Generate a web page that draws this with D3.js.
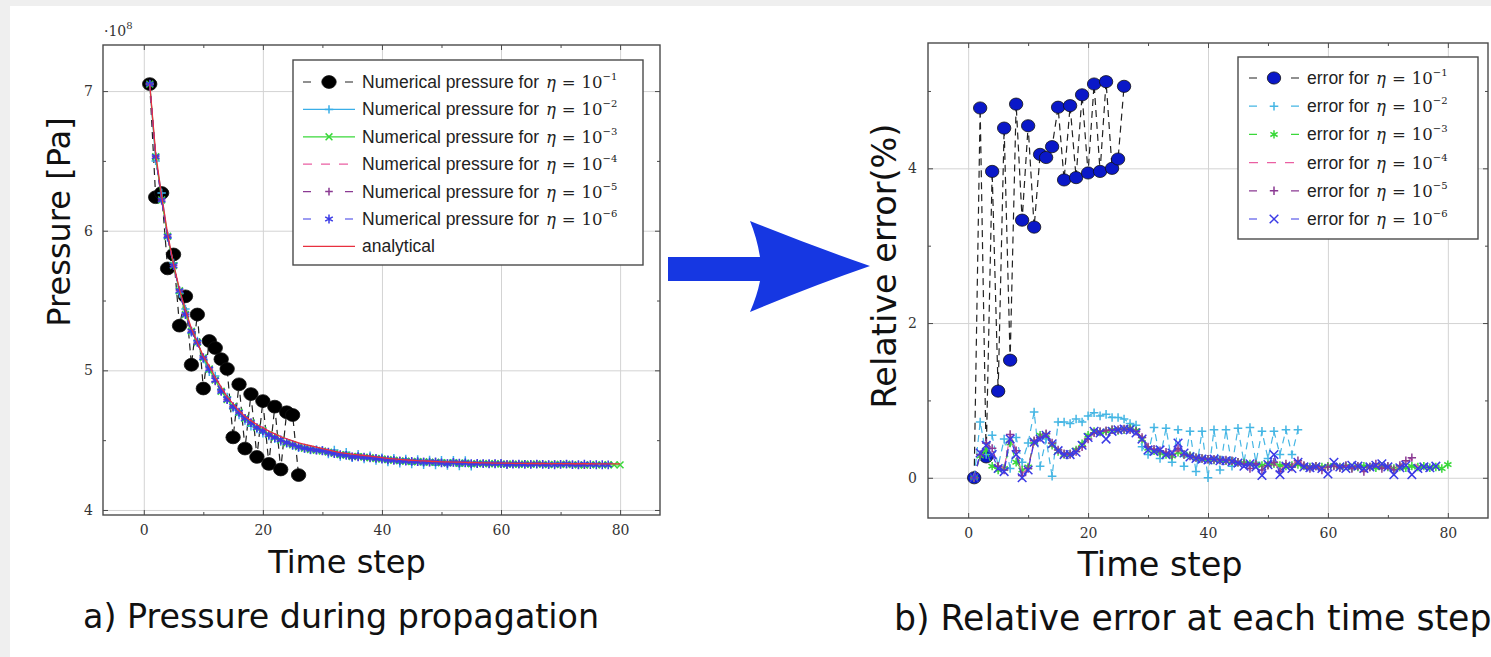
<!DOCTYPE html>
<html><head><meta charset="utf-8">
<script src="https://cdn.jsdelivr.net/npm/d3@7"></script>
<style>body{margin:0;background:#fff}svg{display:block}</style>
</head><body>
<svg id="c" width="1491" height="657"></svg>
<script>
// ---------------- DATA ----------------
const xTickLabels = [0, 20, 40, 60, 80];
const xMinorTicks = [10, 30, 50, 70];
const pressureTickLabels = [4, 5, 6, 7];
const pressureMinorTicks = [4.5, 5.5, 6.5];
const errorTickLabels = [0, 2, 4];
const errorMinorTicks = [1, 3, 5];
const etaExponents = ["−1", "−2", "−3", "−4", "−5", "−6"];

// Pressure (x10^8 Pa), time steps start at 1
const pressureEta1 = [7.05,6.24,6.27,5.73,5.83,5.32,5.53,5.04,5.40,4.87,5.21,5.16,5.08,5.01,4.52,4.90,4.44,4.83,4.38,4.78,4.33,4.74,4.29,4.70,4.68,4.25];
const pressureEta2 = [7.05,6.50,6.27,5.95,5.77,5.55,5.44,5.27,5.21,5.08,4.99,4.96,4.86,4.81,4.73,4.68,4.64,4.60,4.58,4.55,
 4.53,4.51,4.49,4.475,4.46,4.446,4.44,4.43,4.432,4.427,4.40,4.43,4.382,4.414,4.373,4.40,4.364,4.388,4.354,4.375,
 4.343,4.370,4.335,4.366,4.328,4.362,4.323,4.358,4.321,4.356,4.318,4.356,4.315,4.354,4.313];
const pressureEta3 = [7.05,6.53,6.22,5.96,5.75,5.57,5.40,5.28,5.20,5.09,5.01,4.93,4.85,4.79,4.74,4.70,4.655,4.625,4.59,4.57,
 4.54,4.52,4.50,4.48,4.467,4.452,4.442,4.433,4.427,4.422,4.414,4.405,4.396,4.392,4.383,4.382,4.378,4.374,4.369,4.365,
 4.360,4.356,4.352,4.349,4.347,4.345,4.346,4.341,4.343,4.338,4.337,4.339,4.335,4.336,4.331,4.332,4.333,4.331,4.332,4.329,
 4.328,4.329,4.327,4.329,4.327,4.330,4.327,4.325,4.327,4.326,4.328,4.325,4.323,4.322,4.325,4.324,4.323,4.324,4.323,4.323];
const pressureEta4 = [7.05,6.53,6.22,5.96,5.75,5.57,5.40,5.28,5.20,5.09,5.01,4.92,4.85,4.79,4.74,4.70,4.656,4.624,4.59,4.567,
 4.539,4.518,4.497,4.482,4.467,4.452,4.443,4.433,4.427,4.422,4.414,4.405,4.396,4.391,4.384,4.382,4.378,4.374,4.369,4.365,
 4.360,4.356,4.352,4.350,4.347,4.345,4.344,4.340,4.342,4.338,4.336,4.339,4.334,4.335,4.329,4.332,4.333,4.330,4.331,4.329,
 4.328,4.328,4.327,4.328,4.326,4.329,4.327,4.325,4.327,4.326,4.327,4.324,4.322,4.320,4.324,4.323];
const pressureEta5 = [7.05,6.53,6.22,5.96,5.75,5.57,5.40,5.28,5.20,5.09,5.01,4.92,4.85,4.79,4.74,4.70,4.656,4.624,4.59,4.567,
 4.539,4.518,4.497,4.482,4.467,4.452,4.442,4.433,4.427,4.422,4.414,4.405,4.396,4.392,4.383,4.382,4.378,4.374,4.369,4.365,
 4.360,4.356,4.352,4.349,4.347,4.345,4.346,4.341,4.343,4.338,4.335,4.339,4.334,4.335,4.330,4.332,4.333,4.330,4.332,4.329,
 4.328,4.329,4.327,4.329,4.326,4.330,4.327,4.325,4.327,4.326,4.328,4.324,4.322,4.320];
const pressureEta6 = [7.05,6.53,6.22,5.96,5.75,5.57,5.40,5.28,5.20,5.09,5.01,4.93,4.85,4.79,4.74,4.70,4.656,4.625,4.59,4.566,
 4.538,4.519,4.502,4.483,4.467,4.452,4.442,4.434,4.428,4.424,4.415,4.404,4.397,4.391,4.380,4.381,4.378,4.374,4.369,4.365,
 4.359,4.356,4.352,4.350,4.348,4.346,4.343,4.343,4.345,4.338,4.332,4.341,4.336,4.337,4.331,4.333,4.332,4.331,4.331,4.333,
 4.325,4.328,4.329,4.327,4.326,4.328,4.327,4.325,4.324,4.326,4.329,4.325,4.324,4.328,4.325,4.324,4.324,4.323];
const pressureAnalytical = [7.05,6.55,6.25,5.98,5.76,5.58,5.43,5.30,5.20,5.10,5.03,4.95,4.88,4.81,4.76,4.71,4.67,4.64,4.61,4.59,
 4.565,4.545,4.525,4.51,4.495,4.48,4.47,4.46,4.45,4.44,4.43,4.42,4.41,4.405,4.40,4.395,4.39,4.385,4.38,4.375,
 4.37,4.366,4.362,4.359,4.356,4.353,4.351,4.349,4.347,4.345,4.344,4.343,4.342,4.341,4.340,4.339,4.338,4.337,4.336,4.335,
 4.335,4.334,4.334,4.334,4.333,4.333,4.333,4.332,4.332,4.332,4.332,4.331,4.331,4.331,4.331,4.330,4.330,4.330,4.330,4.330];

// Relative error (%)
const errorEta1 = [0.0,4.78,0.27,3.96,1.12,4.52,1.52,4.83,3.33,4.55,3.24,4.18,4.14,4.28,4.79,3.85,4.81,3.88,4.95,3.94,5.09,3.96,5.12,4.00,4.12,5.06];
const errorEta2 = [0.0,0.72,0.30,0.55,0.15,0.50,0.12,0.52,0.20,0.45,0.85,0.15,0.50,0.02,0.72,0.72,0.70,0.76,0.72,0.80,
 0.84,0.80,0.82,0.78,0.78,0.76,0.70,0.68,0.40,0.30,0.65,0.25,0.64,0.20,0.62,0.15,0.60,0.08,0.60,0.00,
 0.62,0.10,0.62,0.15,0.64,0.20,0.65,0.20,0.60,0.25,0.60,0.30,0.62,0.30,0.62];
const errorEta3 = [0.00,0.28,0.36,0.15,0.10,0.12,0.45,0.20,0.10,0.14,0.47,0.55,0.56,0.42,0.34,0.30,0.31,0.36,0.44,0.55,
 0.60,0.59,0.60,0.62,0.61,0.62,0.64,0.61,0.50,0.38,0.35,0.32,0.30,0.28,0.33,0.30,0.29,0.26,0.25,0.24,
 0.23,0.23,0.22,0.21,0.20,0.19,0.18,0.17,0.16,0.17,0.18,0.16,0.15,0.16,0.17,0.15,0.14,0.15,0.14,0.15,
 0.16,0.14,0.15,0.13,0.14,0.15,0.14,0.13,0.15,0.14,0.12,0.14,0.13,0.15,0.14,0.15,0.13,0.14,0.12,0.17];
const errorEta4 = [0.00,0.31,0.44,0.36,0.16,0.12,0.55,0.33,0.05,0.12,0.48,0.53,0.56,0.45,0.36,0.31,0.31,0.34,0.41,0.51,
 0.58,0.60,0.61,0.61,0.62,0.62,0.61,0.60,0.52,0.40,0.37,0.35,0.33,0.31,0.36,0.30,0.28,0.26,0.25,0.24,
 0.23,0.23,0.22,0.21,0.20,0.19,0.15,0.20,0.12,0.17,0.19,0.10,0.17,0.15,0.25,0.15,0.12,0.16,0.11,0.14,
 0.15,0.14,0.15,0.13,0.15,0.09,0.13,0.17,0.12,0.14,0.11,0.15,0.20,0.24,0.14,0.15];
const errorEta5 = [0.00,0.30,0.45,0.38,0.15,0.10,0.56,0.35,0.03,0.12,0.48,0.52,0.57,0.45,0.36,0.31,0.30,0.34,0.40,0.50,
 0.58,0.60,0.61,0.62,0.62,0.63,0.62,0.60,0.52,0.40,0.37,0.35,0.33,0.30,0.38,0.30,0.28,0.26,0.25,0.24,
 0.24,0.23,0.23,0.22,0.20,0.18,0.12,0.18,0.10,0.16,0.20,0.08,0.18,0.14,0.22,0.16,0.12,0.15,0.10,0.14,
 0.15,0.13,0.16,0.12,0.15,0.08,0.14,0.18,0.12,0.15,0.10,0.16,0.22,0.26];
const errorEta6 = [0.00,0.32,0.42,0.30,0.12,0.08,0.50,0.30,0.00,0.10,0.46,0.50,0.55,0.44,0.35,0.30,0.30,0.33,0.42,0.52,
 0.60,0.58,0.50,0.60,0.62,0.63,0.62,0.58,0.50,0.36,0.34,0.36,0.30,0.32,0.45,0.32,0.27,0.25,0.24,0.23,
 0.24,0.22,0.22,0.21,0.19,0.15,0.18,0.14,0.03,0.17,0.30,0.04,0.15,0.12,0.20,0.14,0.13,0.14,0.12,0.05,
 0.20,0.14,0.12,0.16,0.15,0.12,0.14,0.16,0.18,0.14,0.04,0.13,0.16,0.04,0.12,0.14,0.13,0.15];

// ---------------- DRAWING ----------------
const W = 1491, H = 657;
const svg = d3.select('#c');
svg.append('rect').attr('width', W).attr('height', H).attr('fill', '#efefef');
svg.append('rect').attr('x', 10).attr('y', 6).attr('width', W - 10).attr('height', H - 6).attr('fill', '#fff');

const SERIF = "'DejaVu Serif', serif";
const SANS = "'DejaVu Sans', sans-serif";
const LSANS = "'Liberation Sans', Arial, sans-serif";
const FRAME = '#4a4a4a', GRID = '#d3d3d3';

const mk = {
  plus: s => `M${-s},0H${s}M0,${-s}V${s}`,
  cross: s => `M${-s},${-s}L${s},${s}M${-s},${s}L${s},${-s}`,
  star: s => { const a = s * 0.866, b = s * 0.5; return `M0,${-s}V${s}M${-a},${-b}L${a},${b}M${-a},${b}L${a},${-b}`; }
};

function panel(o) {
  const x = d3.scaleLinear().domain(o.xd).range([o.left, o.right]);
  const y = d3.scaleLinear().domain(o.yd).range([o.bottom, o.top]);
  const g = svg.append('g');
  const hgt = o.bottom - o.top, wid = o.right - o.left;
  const clean = s => { s.select('.domain').remove(); };
  const fmt = d => String(d);
  g.append('g').attr('transform', `translate(0,${o.bottom})`)
    .call(d3.axisBottom(x).tickValues(o.xLab).tickSize(-hgt).tickFormat(''))
    .call(clean).call(s => s.selectAll('line').attr('stroke', GRID).attr('stroke-width', 1));
  g.append('g').attr('transform', `translate(${o.left},0)`)
    .call(d3.axisLeft(y).tickValues(o.yLab).tickSize(-wid).tickFormat(''))
    .call(clean).call(s => s.selectAll('line').attr('stroke', GRID).attr('stroke-width', 1));
  const tk = (axis, tr, vals, len) => g.append('g').attr('transform', tr)
    .call(axis.tickValues(vals).tickSize(-len).tickFormat(''))
    .call(clean).call(s => s.selectAll('line').attr('stroke', FRAME).attr('stroke-width', 1));
  tk(d3.axisBottom(x), `translate(0,${o.bottom})`, o.xLab, 5);
  tk(d3.axisBottom(x), `translate(0,${o.bottom})`, o.xMin, 3);
  tk(d3.axisTop(x), `translate(0,${o.top})`, o.xLab, 5);
  tk(d3.axisTop(x), `translate(0,${o.top})`, o.xMin, 3);
  tk(d3.axisLeft(y), `translate(${o.left},0)`, o.yLab, 5);
  tk(d3.axisLeft(y), `translate(${o.left},0)`, o.yMin, 3);
  tk(d3.axisRight(y), `translate(${o.right},0)`, o.yLab, 5);
  tk(d3.axisRight(y), `translate(${o.right},0)`, o.yMin, 3);
  g.append('g').attr('transform', `translate(0,${o.bottom})`)
    .call(d3.axisBottom(x).tickValues(o.xLab).tickSize(0).tickPadding(o.padX).tickFormat(fmt))
    .call(clean).call(s => s.selectAll('text').attr('font-family', SERIF).attr('font-size', 14).attr('fill', '#333'));
  g.append('g').attr('transform', `translate(${o.left},0)`)
    .call(d3.axisLeft(y).tickValues(o.yLab).tickSize(0).tickPadding(o.padY).tickFormat(fmt))
    .call(clean).call(s => s.selectAll('text').attr('font-family', SERIF).attr('font-size', 14).attr('fill', '#333'));
  g.append('rect').attr('x', o.left).attr('y', o.top).attr('width', wid).attr('height', hgt)
    .attr('fill', 'none').attr('stroke', FRAME).attr('stroke-width', 1.4);
  return { x, y, g };
}

function series(p, vals, st) {
  const pts = vals.map((v, i) => ({ t: i + 1, v }));
  const sg = p.g.append('g');
  sg.append('path').datum(pts)
    .attr('d', d3.line().x(d => p.x(d.t)).y(d => p.y(d.v)))
    .attr('fill', 'none').attr('stroke', st.line).attr('stroke-width', st.w || 1.2)
    .attr('stroke-dasharray', st.dash ? '7,5' : null);
  if (st.mark === 'circle') {
    sg.selectAll('ellipse').data(pts).join('ellipse')
      .attr('cx', d => p.x(d.t)).attr('cy', d => p.y(d.v))
      .attr('rx', st.rx).attr('ry', st.ry).attr('fill', st.fill).attr('stroke', '#111').attr('stroke-width', 0.8);
  } else if (st.mark) {
    sg.selectAll('path.m').data(pts).join('path').attr('class', 'm')
      .attr('transform', d => `translate(${p.x(d.t)},${p.y(d.v)})`)
      .attr('d', mk[st.mark](st.s)).attr('fill', 'none')
      .attr('stroke', st.mc || st.line).attr('stroke-width', 1.5);
  }
}

function legend(L, items) {
  const g = svg.append('g');
  g.append('rect').attr('x', L.x).attr('y', L.y).attr('width', L.w).attr('height', L.h)
    .attr('fill', '#fff').attr('stroke', FRAME).attr('stroke-width', 1.4);
  items.forEach((it, i) => {
    const cy = L.r0 + L.dy * i;
    const st = it.st;
    g.append('line').attr('x1', L.s0).attr('x2', L.s1).attr('y1', cy).attr('y2', cy)
      .attr('stroke', st.line).attr('stroke-width', st.w || 1.2)
      .attr('stroke-dasharray', st.dash ? (st.mark ? '8,34,8' : '9,9') : null);
    const mx = (L.s0 + L.s1) / 2;
    if (st.mark === 'circle') {
      g.append('ellipse').attr('cx', mx).attr('cy', cy).attr('rx', st.rx).attr('ry', st.ry)
        .attr('fill', st.fill).attr('stroke', '#111').attr('stroke-width', 0.8);
    } else if (st.mark) {
      g.append('path').attr('transform', `translate(${mx},${cy})`).attr('d', mk[st.mark](st.s))
        .attr('fill', 'none').attr('stroke', st.mc || st.line).attr('stroke-width', 1.5);
    }
    const t = g.append('text').attr('x', L.tx).attr('y', cy + 6).attr('fill', '#222');
    t.append('tspan').attr('font-family', LSANS).attr('font-size', 17.5).text(it.text);
    if (it.exp) {
      t.append('tspan').attr('font-family', SERIF).attr('font-style', 'italic').attr('font-size', 16.5).attr('dx', 2).text('η');
      t.append('tspan').attr('font-family', SERIF).attr('font-size', 16.5).attr('dx', 6).text('=');
      t.append('tspan').attr('font-family', SERIF).attr('font-size', 16.5).attr('dx', 6).text('10');
      t.append('tspan').attr('font-family', SERIF).attr('font-size', 10).attr('dy', -8).text(it.exp);
    }
  });
}

// ---------- Left panel ----------
const P = panel({ left: 103, right: 660, top: 45, bottom: 515, xd: [-6.85, 86.7], yd: [3.964, 7.33],
  xLab: xTickLabels, xMin: xMinorTicks, yLab: pressureTickLabels, yMin: pressureMinorTicks, padX: 10, padY: 10 });

const lStyles = [
  { line: '#222', dash: true, mark: 'circle', rx: 7.2, ry: 6.4, fill: '#000' },
  { line: '#3aaee8', mark: 'plus', s: 4.2 },
  { line: '#3ad83a', mark: 'cross', s: 3.4 },
  { line: '#ea5fa2', dash: true },
  { line: '#8b3a93', dash: true, mark: 'plus', s: 3.8 },
  { line: '#3a3ae6', dash: true, mark: 'star', s: 4.4 },
  { line: '#e8303f', w: 1.3 }
];
const lData = [pressureEta1, pressureEta2, pressureEta3, pressureEta4, pressureEta5, pressureEta6, pressureAnalytical];
lData.forEach((d, i) => series(P, d, lStyles[i]));

svg.append('text').attr('x', 104).attr('y', 36).attr('font-family', SERIF).attr('fill', '#333')
  .call(t => { t.append('tspan').attr('font-size', 14).text('·10'); t.append('tspan').attr('font-size', 10).attr('dy', -7).text('8'); });

legend({ x: 293, y: 60, w: 350, h: 205, r0: 82, dy: 27.4, s0: 303, s1: 355, tx: 362 },
  lStyles.map((st, i) => i < 6 ? { st, text: 'Numerical pressure for ', exp: etaExponents[i] } : { st, text: 'analytical' }));

svg.append('text').attr('transform', 'translate(70,222) rotate(-90)').attr('text-anchor', 'middle')
  .attr('font-family', SANS).attr('font-size', 32).attr('fill', '#111').text('Pressure [Pa]');
svg.append('text').attr('x', 347).attr('y', 573).attr('text-anchor', 'middle')
  .attr('font-family', SANS).attr('font-size', 32).attr('fill', '#111').text('Time step');
svg.append('text').attr('x', 83).attr('y', 628)
  .attr('font-family', SANS).attr('font-size', 33.3).attr('fill', '#111').text('a) Pressure during propagation');

// ---------- Arrow ----------
svg.append('path')
  .attr('d', 'M668,257 L760,257 Q757,238 750,221 Q812,246 870,266 Q812,286 750,312 Q757,296 760,281 L668,281 Z')
  .attr('fill', '#1637e2');

// ---------- Right panel ----------
const R = panel({ left: 928, right: 1488, top: 43, bottom: 518, xd: [-6.7, 86.7], yd: [-0.52, 5.62],
  xLab: xTickLabels, xMin: xMinorTicks, yLab: errorTickLabels, yMin: errorMinorTicks, padX: 10.5, padY: 11 });

const rStyles = [
  { line: '#222', dash: true, mark: 'circle', rx: 6.7, ry: 6.1, fill: '#0a18c8' },
  { line: '#45b6e4', dash: true, mark: 'plus', s: 4.3 },
  { line: '#3ad83a', dash: true, mark: 'star', s: 4.2 },
  { line: '#ea5fa2', dash: true },
  { line: '#8b3a93', dash: true, mark: 'plus', s: 4.2 },
  { line: '#3a3ae6', dash: true, mark: 'cross', s: 4.3 }
];
const rData = [errorEta1, errorEta2, errorEta3, errorEta4, errorEta5, errorEta6];
rData.forEach((d, i) => series(R, d, rStyles[i]));

legend({ x: 1238, y: 57, w: 240, h: 182, r0: 78, dy: 28.2, s0: 1249, s1: 1299, tx: 1307 },
  rStyles.map((st, i) => ({ st, text: 'error for ', exp: etaExponents[i] })));

svg.append('text').attr('transform', 'translate(896,266) rotate(-90)').attr('text-anchor', 'middle')
  .attr('font-family', SANS).attr('font-size', 33.5).attr('fill', '#111').text('Relative error(%)');
svg.append('text').attr('x', 1160).attr('y', 576).attr('text-anchor', 'middle')
  .attr('font-family', SANS).attr('font-size', 33.5).attr('fill', '#111').text('Time step');
svg.append('text').attr('x', 894).attr('y', 630)
  .attr('font-family', SANS).attr('font-size', 34.7).attr('fill', '#111').text('b) Relative error at each time step');
</script>
</body></html>
